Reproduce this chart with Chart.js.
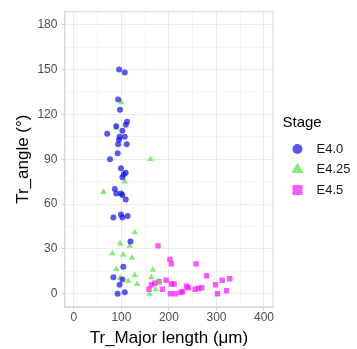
<!DOCTYPE html>
<html>
<head>
<meta charset="utf-8">
<script src="https://cdn.jsdelivr.net/npm/chart.js@4"></script>
<style>
  html, body { margin: 0; padding: 0; background: #fff; }
  #wrap { width: 357px; height: 349px; }
</style>
</head>
<body>
<div id="wrap"><canvas id="myChart" width="357" height="349"></canvas></div>
<script>
// Stages shown in the legend
var stages = ['E4.0', 'E4.25', 'E4.5'];

// E4.0 (blue circles)
var e40X = [95, 107, 93, 97, 89, 112, 109, 70, 102, 96, 107, 95, 111, 93, 92, 76, 99, 109, 102, 105,
            86, 89, 99, 102, 109, 99, 83, 102, 113, 119, 104, 83, 102, 96, 92, 107];
var e40Y = [150, 148, 130, 123, 112, 115, 113, 107, 109, 105, 105, 103, 100, 100, 94, 90, 84, 81, 78, 80,
            70, 67, 67, 66, 63, 53, 51, 51, 52, 35, 18, 11, 9.5, 6, 0, 1];

// E4.25 (green triangles)
var e425X = [100, 89, 161, 107, 62, 128, 97, 117, 81, 104, 122, 89, 97, 128, 114, 133, 166, 163, 179, 172, 159];
var e425Y = [128, 111, 90, 75, 68, 41, 33.5, 32, 27, 26, 24, 16.5, 10.7, 12.5, 8.5, 6.5, 16, 11, 8.5, 3, 0];

// E4.5 (magenta squares)
var e45X = [177, 202, 205, 257, 279, 312, 328, 298, 321, 302, 158, 163, 170, 179, 194, 186, 205, 211,
            203, 214, 225, 229, 237, 241, 255, 262, 269];
var e45Y = [32, 23, 20, 20, 12, 9, 10, 6, 2, 0, 3, 6, 7, 8, 9, 3, 6.5, 6.5,
            0, 0, 1, 1.3, 5, 4, 3, 3.5, 4];

// tick labels
var xTicks = [0, 100, 200, 300, 400];
var yTicks = [0, 30, 60, 90, 120, 150, 180];

function pts(xs, ys) {
    return xs.map(function (x, i) { return { x: x, y: ys[i] }; });
}

// major + minor grid positions
function gridTicks(major) {
    var out = [];
    var step = (major[1] - major[0]) / 2;
    for (var v = major[0]; v <= major[major.length - 1] + 0.001; v += step) {
        out.push({ value: v });
    }
    return out;
}

function isMajor(v, list) { return list.indexOf(v) !== -1; }

var font = "'Liberation Sans', Arial, sans-serif";

const data = {
    datasets: [
        {
            label: stages[0],
            data: pts(e40X, e40Y),
            pointStyle: 'circle',
            pointRadius: 3,
            backgroundColor: 'rgba(10, 10, 225, 0.68)',
            borderWidth: 0
        },
        {
            label: stages[1],
            data: pts(e425X, e425Y),
            pointStyle: 'triangle',
            pointRadius: 3.8,
            backgroundColor: 'rgba(84, 226, 62, 0.7)',
            borderWidth: 0
        },
        {
            label: stages[2],
            data: pts(e45X, e45Y),
            pointStyle: 'rect',
            pointRadius: 3.8,
            backgroundColor: 'rgba(248, 20, 248, 0.7)',
            borderWidth: 0
        }
    ]
};

// draws one legend key
function drawKey(ctx, style, x, y) {
    ctx.beginPath();
    if (style === 'circle') {
        ctx.arc(x, y, 5, 0, Math.PI * 2);
    } else if (style === 'triangle') {
        var r = 7;
        ctx.moveTo(x, y - r);
        ctx.lineTo(x + r * 0.866, y + r / 2);
        ctx.lineTo(x - r * 0.866, y + r / 2);
        ctx.closePath();
    } else {
        ctx.rect(x - 5, y - 5, 10, 10);
    }
    ctx.fill();
}

const config = {
    type: 'scatter',
    data: data,
    options: {
        responsive: false,
        animation: false,
        layout: { padding: { left: 13, top: 6, right: 83.5, bottom: 0 } },
        plugins: {
            tooltip: { enabled: false },
            legend: { display: false }
        },
        scales: {
            x: {
                type: 'linear',
                min: -20,
                max: 420,
                afterBuildTicks: function (scale) { scale.ticks = gridTicks(xTicks); },
                ticks: {
                    color: '#4d4d4d',
                    padding: 0,
                    maxRotation: 0,
                    font: { family: font, size: 12 },
                    callback: function (v) { return isMajor(v, xTicks) ? v : ''; }
                },
                grid: {
                    color: function (c) { return isMajor(c.tick.value, xTicks) ? '#ebebeb' : '#f4f4f4'; },
                    tickColor: function (c) { return isMajor(c.tick.value, xTicks) ? '#cfcfcf' : 'rgba(0,0,0,0)'; },
                    tickLength: 3,
                    lineWidth: 1
                },
                border: { color: '#d9d9d9' },
                title: {
                    display: true,
                    text: 'Tr_Major length (μm)',
                    color: '#000',
                    font: { family: font, size: 17 },
                    padding: { top: 4, bottom: 0 }
                }
            },
            y: {
                type: 'linear',
                min: -9,
                max: 189,
                afterBuildTicks: function (scale) { scale.ticks = gridTicks(yTicks); },
                ticks: {
                    color: '#4d4d4d',
                    padding: 4,
                    font: { family: font, size: 12 },
                    callback: function (v) { return isMajor(v, yTicks) ? v : ''; }
                },
                grid: {
                    color: function (c) { return isMajor(c.tick.value, yTicks) ? '#ebebeb' : '#f4f4f4'; },
                    tickColor: function (c) { return isMajor(c.tick.value, yTicks) ? '#cfcfcf' : 'rgba(0,0,0,0)'; },
                    tickLength: 3,
                    lineWidth: 1
                },
                border: { color: '#d9d9d9' },
                title: {
                    display: true,
                    text: 'Tr_angle (°)',
                    color: '#000',
                    font: { family: font, size: 17 },
                    padding: { top: 0, bottom: 0 }
                }
            }
        }
    },
    plugins: [{
        // panel border + legend on the right, like the ggplot version
        id: 'panelAndLegend',
        afterDraw: function (chart) {
            var a = chart.chartArea, ctx = chart.ctx;
            ctx.save();
            ctx.strokeStyle = '#d9d9d9';
            ctx.lineWidth = 1;
            ctx.strokeRect(a.left + 0.5, a.top + 0.5, a.right - a.left - 1, a.bottom - a.top - 1);

            var lx = a.right + 9;
            ctx.textBaseline = 'middle';
            ctx.textAlign = 'left';
            ctx.fillStyle = '#000';
            ctx.font = '15px ' + font;
            ctx.fillText('Stage', lx, 123);
            ctx.font = '13px ' + font;
            chart.data.datasets.forEach(function (ds, i) {
                var y = 149 + i * 20.5;
                ctx.fillStyle = ds.backgroundColor;
                drawKey(ctx, ds.pointStyle, lx + 15, y);
                ctx.fillStyle = '#1a1a1a';
                ctx.fillText(ds.label, lx + 34, y);
            });
            ctx.restore();
        }
    }]
};

var myChart = new Chart(document.getElementById('myChart'), config);
</script>
</body>
</html>
